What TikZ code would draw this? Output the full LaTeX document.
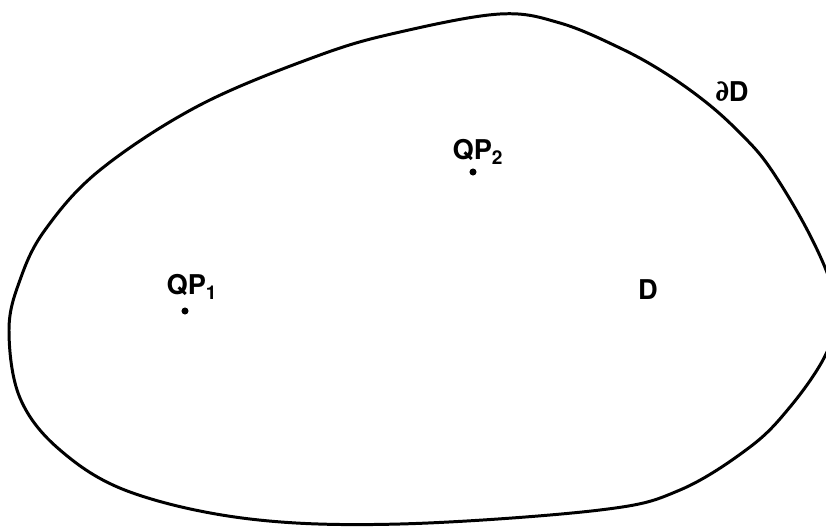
\documentclass[tikz,border=0pt]{standalone}
\usepackage{fontspec}
\setmainfont{TeX Gyre Heros}

\tikzset{
  lbl/.style={font=\fontsize{15.5}{18}\selectfont\bfseries, inner sep=0pt},
  pt/.style={circle, fill=black, inner sep=0pt, minimum size=4pt}
}

\begin{document}
\begin{tikzpicture}[x=0.02cm,y=-0.02cm]
\useasboundingbox (0,0) rectangle (826,527);
\clip (0,0) rectangle (826,527);
% boundary of the domain
\draw[line width=1.7pt] plot[smooth cycle, tension=0.6] coordinates {
  (500,14) (560,23) (620,48) (665,73) (707,103) (740,133) (768,165)
  (803,222) (828,275) (838,315) (824,358) (790,407) (750,447) (680,490)
  (600,510) (400,524) (250,519) (130,492) (60,450) (20,398) (9,330)
  (20,280) (45,230) (100,170) (200,105) (320,55) (400,32)};
% labels
\node[lbl] (bdry) at (732,92) {∂D};
\node[lbl] (dom) at (648,290) {D};
\node[lbl] (qptwo) at (478,152) {QP\textsubscript{2}};
\node[pt] (ptwo) at (473,172) {};
\node[lbl] (qpone) at (192,287) {QP\textsubscript{1}};
\node[pt] (pone) at (185,311) {};
\end{tikzpicture}
\end{document}
